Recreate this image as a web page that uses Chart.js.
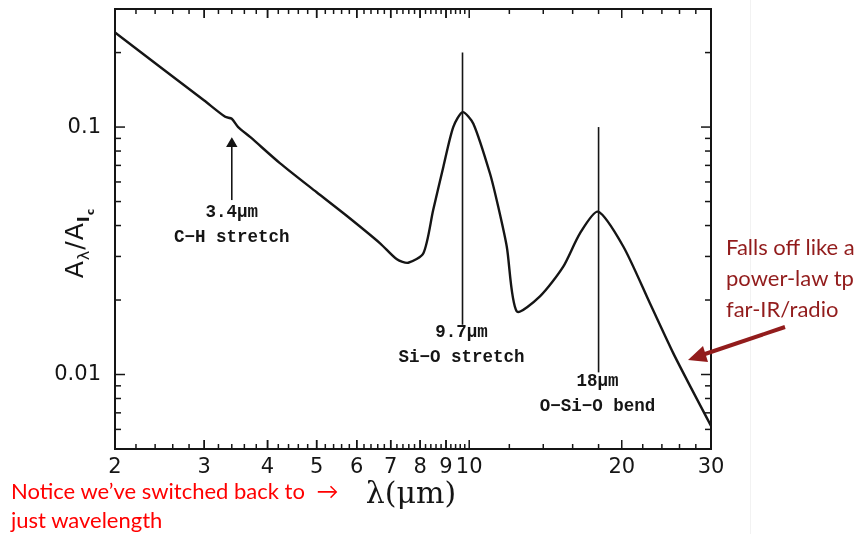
<!DOCTYPE html>
<html>
<head>
<meta charset="utf-8">
<script src="https://cdn.jsdelivr.net/npm/chart.js@4.4.1/dist/chart.umd.min.js"></script>
<style>
  body { margin: 0; background: #fff; }
  #wrap { position: relative; width: 860px; height: 534px; }
  .note { position: absolute; font-family: Lato, "Open Sans", sans-serif; white-space: nowrap; }
  #edge { position: absolute; left: 750px; top: 0; width: 1px; height: 534px; background: #f2f2f2; }
</style>
</head>
<body>
<div id="wrap">
  <div id="edge"></div>
  <canvas id="c"></canvas>
  <div class="note" style="left:11px;top:476px;color:#ff0000;font-size:22px;line-height:29px">Notice we’ve switched back to <span style="margin-left:6px">→</span><br>just wavelength</div>
  <div class="note" style="left:726px;top:231px;color:#921c1c;font-size:22px;line-height:31px">Falls off like a<br>power-law tp<br>far-IR/radio</div>
  <svg style="position:absolute;left:0;top:0" width="860" height="534">
    <line x1="785" y1="327" x2="702" y2="355" stroke="#921c1c" stroke-width="4"/>
    <polygon points="688,360 703,346 708,362" fill="#921c1c"/>
  </svg>
</div>
<script>
// extinction curve A_lambda / A_Ic
const lambda = [2.0, 2.5, 3.0, 3.3, 3.4, 3.5, 3.7, 4.23, 5.0, 5.73, 6.67, 7.2, 7.58, 8.12, 8.49, 8.89,
  9.30, 9.71, 10.19, 10.99, 11.41, 11.86, 12.41, 13.79, 15.33, 16.54, 17.95, 20.14, 22.73, 25.27, 27.27, 30];
const extinction = [0.241, 0.170, 0.128, 0.110, 0.108, 0.100, 0.091, 0.0715, 0.0545, 0.0438, 0.0339, 0.0292, 0.0283, 0.0309, 0.0462, 0.069,
  0.100, 0.1149, 0.1032, 0.0649, 0.0476, 0.0329, 0.0180, 0.0207, 0.0273, 0.0372, 0.0455, 0.0329, 0.0194, 0.0122, 0.0090, 0.0062];

// band markers
const markerLambda = [3.4, 9.7, 18];
const markerTop = [0.0856, 0.2, 0.1];
const markerBottom = [0.0507, 0.0159, 0.0102];
const markerLabel = ["3.4μm", "9.7μm", "18μm"];
const markerNote = ["C−H stretch", "Si−O stretch", "O−Si−O bend"];

const xTickVals = [2, 3, 4, 5, 6, 7, 8, 9, 10, 20, 30];
const yTickVals = [0.01, 0.1];

const xMinor = [];
for (let v = 2.2; v < 9.95; v += 0.2) xMinor.push(+v.toFixed(1));
[12, 14, 16, 18, 22, 24, 26, 28].forEach(v => xMinor.push(v));
const yMinor = [0.005, 0.006, 0.007, 0.008, 0.009, 0.02, 0.03, 0.04, 0.05, 0.06, 0.07, 0.08, 0.09, 0.2, 0.3];

const INK = "#151515";

const frame = {
  id: "frame",
  afterDatasetsDraw(chart) {
    const { ctx, chartArea: a, scales: { x, y } } = chart;
    ctx.save();
    ctx.strokeStyle = INK;
    ctx.lineWidth = 2;
    ctx.strokeRect(a.left, a.top, a.right - a.left, a.bottom - a.top);
    ctx.lineWidth = 1.5;
    const seg = (x1, y1, x2, y2) => { ctx.beginPath(); ctx.moveTo(x1, y1); ctx.lineTo(x2, y2); ctx.stroke(); };
    xTickVals.concat(xMinor).forEach(v => {
      const p = x.getPixelForValue(v), L = xTickVals.includes(v) ? 9 : 5;
      seg(p, a.bottom, p, a.bottom - L);
      seg(p, a.top, p, a.top + L);
    });
    yTickVals.concat(yMinor).forEach(v => {
      const p = y.getPixelForValue(v), L = yTickVals.includes(v) ? 10 : 6;
      seg(a.left, p, a.left + L, p);
      seg(a.right, p, a.right - L, p);
    });

    // band labels
    ctx.fillStyle = INK;
    ctx.textAlign = "center";
    ctx.textBaseline = "middle";
    ctx.font = 'bold 17.5px "Liberation Mono"';
    const gap = [13, 8, 9];
    markerLambda.forEach((l, i) => {
      const px = x.getPixelForValue(l) + (i === 0 ? 0 : -1);
      const py = y.getPixelForValue(markerBottom[i]) + gap[i];
      ctx.fillText(markerLabel[i], px, py);
      ctx.fillText(markerNote[i], px, py + 25);
    });

    // x title
    ctx.font = '30px "DejaVu Serif"';
    ctx.fillText("λ(μm)", 411, 495);

    // y title, rotated
    ctx.translate(75, 243);
    ctx.rotate(-Math.PI / 2);
    const parts = [
      ["A", '25px "DejaVu Sans"', 0], ["λ", '16px "DejaVu Sans"', 6],
      ["/", '25px "DejaVu Sans"', 0], ["A", '25px "DejaVu Sans"', 0],
      ["I", 'bold 16px "DejaVu Sans"', 6], ["c", 'bold 11px "DejaVu Sans"', 11]
    ];
    let w = 0;
    parts.forEach(p => { ctx.font = p[1]; w += ctx.measureText(p[0]).width + 1; });
    let cx = -w / 2;
    ctx.textAlign = "left";
    ctx.textBaseline = "alphabetic";
    parts.forEach(p => { ctx.font = p[1]; ctx.fillText(p[0], cx, 8 + p[2]); cx += ctx.measureText(p[0]).width + 1; });
    ctx.restore();
  }
};

const noPad = s => { s.paddingTop = 0; s.paddingBottom = 0; s.paddingLeft = 0; s.paddingRight = 0; };

new Chart(document.getElementById("c"), {
  type: "line",
  data: {
    datasets: [
      {
        data: lambda.map((l, i) => ({ x: l, y: extinction[i] })),
        borderColor: INK, borderWidth: 2.4, pointRadius: 0, tension: 0.25, fill: false
      },
      ...markerLambda.map((l, i) => ({
        data: [{ x: l, y: markerBottom[i] }, { x: l, y: markerTop[i] }],
        borderColor: INK, borderWidth: 1.6, backgroundColor: INK,
        pointRadius: i === 0 ? [0, 5] : 0, pointStyle: "triangle", tension: 0
      }))
    ]
  },
  options: {
    responsive: true,
    maintainAspectRatio: false,
    animation: false,
    events: [],
    layout: { padding: { top: 9, right: 149, left: 0, bottom: 0 } },
    plugins: { legend: { display: false }, tooltip: { enabled: false } },
    scales: {
      x: {
        type: "logarithmic", min: 2, max: 30,
        grid: { display: false, drawTicks: false }, border: { display: false },
        afterBuildTicks: s => { s.ticks = xTickVals.map(v => ({ value: v })); },
        afterFit: s => { s.height = 85; noPad(s); },
        ticks: { autoSkip: false, maxRotation: 0, padding: 6, color: INK,
          font: { family: "DejaVu Sans", size: 21 }, callback: v => String(v) }
      },
      y: {
        type: "logarithmic", min: 0.005, max: 0.3,
        grid: { display: false, drawTicks: false }, border: { display: false },
        afterBuildTicks: s => { s.ticks = yTickVals.map(v => ({ value: v })); },
        afterFit: s => { s.width = 115; noPad(s); },
        ticks: { autoSkip: false, padding: 14, color: INK,
          font: { family: "DejaVu Sans", size: 21 }, callback: v => String(v) }
      }
    }
  },
  plugins: [frame]
});
</script>
</body>
</html>
